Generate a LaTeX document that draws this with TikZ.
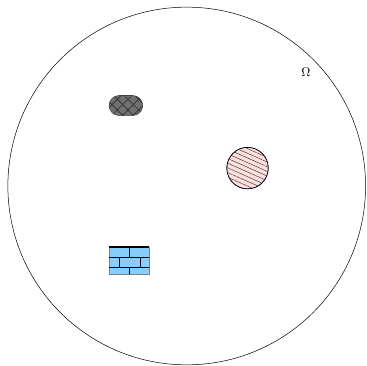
\documentclass[tikz,border=0pt]{standalone}
\usepackage{amsmath,amssymb}
\usetikzlibrary{calc,patterns,patterns.meta}
\definecolor{regionblue}{RGB}{135,206,250}
\definecolor{regionpink}{RGB}{255,222,222}
\definecolor{regiongray}{RGB}{112,112,112}

\begin{document}
\begin{tikzpicture}[line cap=round,line join=round]
 \useasboundingbox (-5.22,-5.03) rectangle (5.04,5.20);
 \coordinate (o) at (0,0);
 \draw (o) circle (5);
 \node (omega) at (3.33,3.19) {$\Omega$};
 % the three inclusions
 \coordinate (a) at (-1.70,2.25);
 \coordinate (b) at (1.70,0.50);
 \coordinate (c) at (-1.61,-2.085);
 \draw[regiongray!60!black,fill=regiongray,rounded corners=0.28cm]
  ($(a)+(-0.47,-0.28)$) rectangle ($(a)+(0.47,0.28)$);
 \fill[pattern={Hatch[angle=45,distance=6pt,line width=0.5pt]},
  pattern color=regiongray!40!black,rounded corners=0.28cm]
  ($(a)+(-0.47,-0.28)$) rectangle ($(a)+(0.47,0.28)$);
 \draw[fill=regionpink] (b) circle (0.58);
 \fill[pattern={Lines[angle=-24,distance=3.4pt,line width=0.4pt]},
  pattern color=black!75] (b) circle (0.58);
 \draw (b) circle (0.58);
 \draw[gray,fill=regionblue] ($(c)+(-0.56,-0.385)$) rectangle ($(c)+(0.56,0.385)$);
 \begin{scope}[shift={(c)},line width=0.8pt,line cap=butt]
  \draw[line width=1.3pt] (-0.56,0.385) -- (0.56,0.385);
  \draw (-0.56,0.10) -- (0.56,0.10);
  \draw (-0.56,-0.205) -- (0.56,-0.205);
  \draw (0.02,0.385) -- (0.02,0.10);
  \draw (-0.256,0.10) -- (-0.256,-0.205);
  \draw (0.33,0.10) -- (0.33,-0.205);
  \draw (0.02,-0.205) -- (0.02,-0.385);
 \end{scope}
\end{tikzpicture}
\end{document}
